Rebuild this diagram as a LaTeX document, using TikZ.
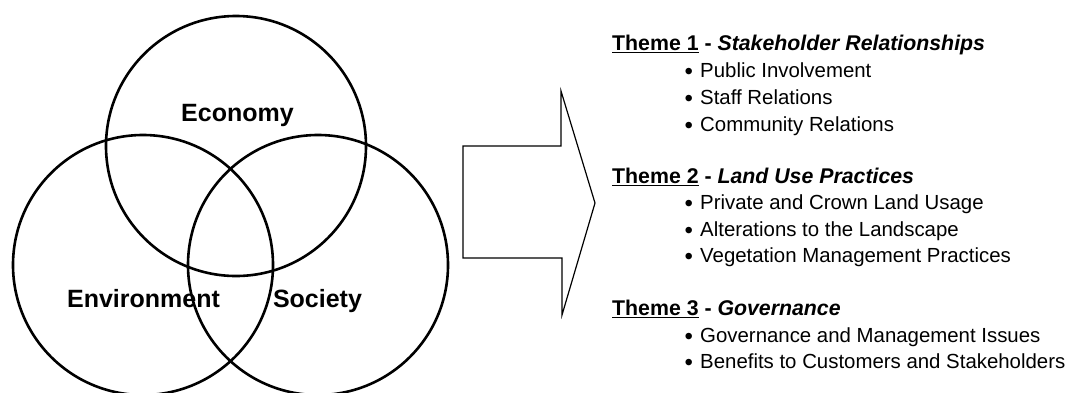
\documentclass[tikz,border=0pt]{standalone}
\usepackage{fontspec}
\setmainfont{Liberation Sans}
\begin{document}
\begin{tikzpicture}[x=1pt,y=-1pt,
  venn/.style={draw=black,line width=2.6pt},
  vlabel/.style={anchor=base,font=\fontsize{25}{28}\selectfont\bfseries,inner sep=0pt},
  theme/.style={anchor=base west,font=\fontsize{21.3}{24}\selectfont\bfseries,inner sep=0pt},
  item/.style={anchor=base west,font=\fontsize{20.4}{24}\selectfont,inner sep=0pt},
  bullet/.style={anchor=base,font=\fontsize{24}{24}\selectfont,inner sep=0pt},
  bigarrow/.style={draw=black,line width=1.2pt,line join=miter}]
\useasboundingbox (0,0) rectangle (1070,392);
\draw[venn] (236,146) circle [radius=130pt];
\draw[venn] (143,265) circle [radius=130pt];
\draw[venn] (318,265) circle [radius=130pt];
\node[vlabel] (eco) at (237.5,121) {Economy};
\node[vlabel] (env) at (143.5,307) {Environment};
\node[vlabel] (soc) at (317.5,307) {Society};
% big arrow
\coordinate (a1) at (463,146);
\coordinate (a2) at (561,146);
\coordinate (a3) at (561,91);
\coordinate (a4) at (595,203);
\coordinate (a5) at (562,315);
\coordinate (a6) at (562,258);
\coordinate (a7) at (463,258);
\draw[bigarrow] (a1) -- (a2) -- (a3) -- (a4) -- (a5) -- (a6) -- (a7) -- cycle;
% themes
\node[theme] (t1) at (612,50.5) {\underline{Theme 1} - \textit{Stakeholder Relationships}};
\node[item] (i11) at (700,77.5) {Public Involvement};
\node[item] (i12) at (700,104) {Staff Relations};
\node[item] (i13) at (700,131) {Community Relations};
\node[theme] (t2) at (612,183.5) {\underline{Theme 2} - \textit{Land Use Practices}};
\node[item] (i21) at (700,209.5) {Private and Crown Land Usage};
\node[item] (i22) at (700,236) {Alterations to the Landscape};
\node[item] (i23) at (700,262.5) {Vegetation Management Practices};
\node[theme] (t3) at (612,315.5) {\underline{Theme 3} - \textit{Governance}};
\node[item] (i31) at (700,342) {Governance and Management Issues};
\node[item] (i32) at (700,368) {Benefits to Customers and Stakeholders};
\foreach \n in {i11,i12,i13,i21,i22,i23,i31,i32}
  \node[bullet] (b\n) at ([xshift=-11.3pt,yshift=-2pt]\n.base west) {•};
\end{tikzpicture}
\end{document}
